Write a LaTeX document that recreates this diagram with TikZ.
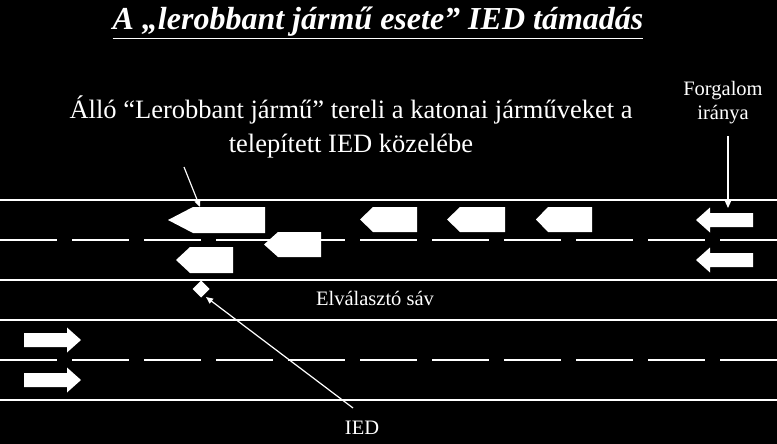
\documentclass[tikz,border=0pt]{standalone}
\usepackage{fontspec}
\setmainfont{Liberation Serif}
\usetikzlibrary{arrows.meta, calc}

\begin{document}
\begin{tikzpicture}[x=1pt, y=-1pt,
        road/.style={white, line width=1.4pt},
        lane/.style={road, dash pattern=on 57pt off 15pt},
        pointer/.style={white, line width=1.2pt, -{Triangle[length=7pt, width=6pt]}},
        caption/.style={text=white, font=\fontsize{20.5}{24}\selectfont, inner sep=0pt}]
        \fill[black] (0,0) rectangle (777,444);
        \useasboundingbox (0,0) rectangle (777,444);
        \node[text=white, font=\fontsize{32}{36}\selectfont\bfseries\itshape, inner sep=0pt] (title) at (378,23) {\underline{A „lerobbant jármű esete” IED támadás}};
        \node[text=white, font=\fontsize{26.5}{34}\selectfont, align=center, inner sep=0pt] (hint) at (351,127) {Álló “Lerobbant jármű” tereli a katonai járműveket a\\telepített IED közelébe};
        \node[caption, align=center] (flow) at (723,103) {Forgalom\\ iránya};
        \node[caption] (median) at (375,298) {Elválasztó sáv};
        \node[caption] (ied) at (362,428) {IED};
        \draw[road] (0,200) -- (777,200);
        \draw[lane] (0,240) -- (777,240);
        \draw[road] (0,280) -- (777,280);
        \draw[road] (0,320) -- (777,320);
        \draw[lane] (0,360) -- (777,360);
        \draw[road] (0,400) -- (777,400);
        \foreach \t/\s/\e/\a/\b in {168/193/265/207/233, 264/278/321/232/257, 176/190/233/247/273, 360/373/417/207/232, 447/460/505/207/232, 536/548/592/207/232}
            \fill[white] (\t,{(\a+\b)/2}) -- (\s,\a) -- (\e,\a) -- (\e,\b) -- (\s,\b) -- cycle;
        \foreach \y in {220, 260}
            \fill[white] (696,\y) -- (710,\y-12.5) -- (710,\y-7) -- (753,\y-7) -- (753,\y+7) -- (710,\y+7) -- (710,\y+12.5) -- cycle;
        \foreach \y in {340, 380}
            \fill[white] (81,\y) -- (67,\y-12.5) -- (67,\y-7) -- (24,\y-7) -- (24,\y+7) -- (67,\y+7) -- (67,\y+12.5) -- cycle;
        \coordinate (bomb) at (201,289);
        \fill[white] ($(bomb)+(0,-8.5)$) -- ($(bomb)+(8.5,0)$) -- ($(bomb)+(0,8.5)$) -- ($(bomb)+(-8.5,0)$) -- cycle;
        \coordinate (broken) at (200,207);
        \coordinate (hinttail) at (184,167);
        \coordinate (iedtail) at (353,408);
        \coordinate (iedhead) at (206,297);
        \coordinate (flowtail) at (728,136);
        \coordinate (flowhead) at (728,208);
        \draw[pointer] (hinttail) -- (broken);
        \draw[pointer] (iedtail) -- (iedhead);
        \draw[pointer] (flowtail) -- (flowhead);
\end{tikzpicture}
\end{document}
